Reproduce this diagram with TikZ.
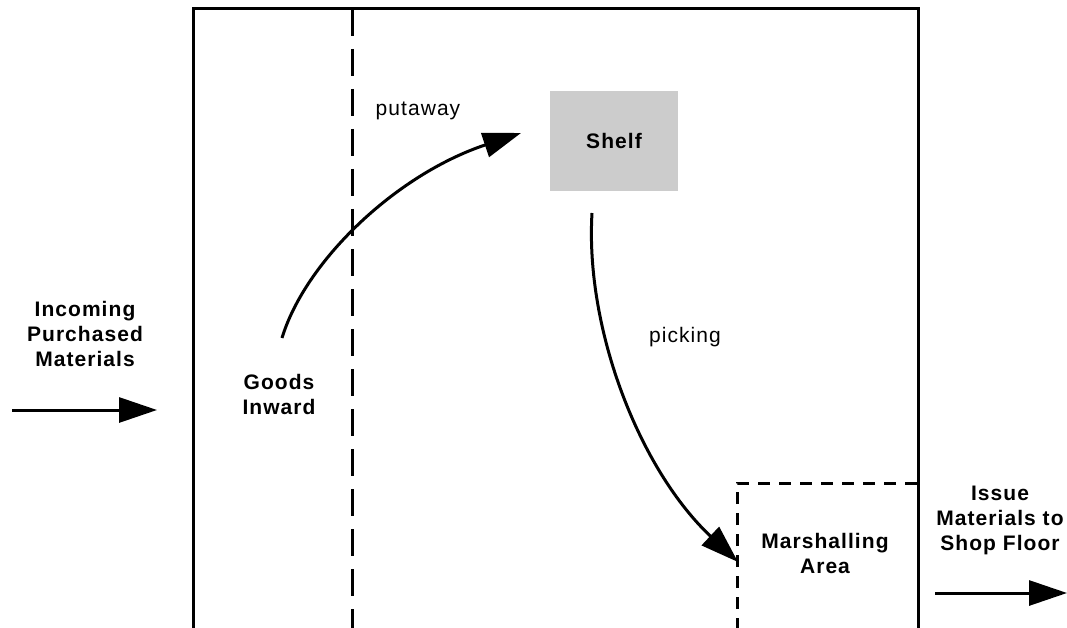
\documentclass[tikz,border=0pt]{standalone}
\usepackage{fontspec}
\setmainfont{Liberation Sans}[LetterSpace=5]
\usetikzlibrary{arrows.meta}
\begin{document}
\begin{tikzpicture}[x=1pt,y=-1pt,
  wall/.style={line width=3pt},
  divider/.style={line width=3pt, dash pattern=on 27pt off 13pt},
  zone/.style={line width=3pt, dash pattern=on 12pt off 9pt},
  flow/.style={line width=3pt, -{Triangle[length=38pt,width=25pt]}},
  bold/.style={font=\fontsize{21}{25}\selectfont\bfseries, align=center, inner sep=0pt},
  plain/.style={font=\fontsize{21}{24}\selectfont, inner sep=0pt},
  shelfbox/.style={fill=black!20, minimum width=128pt, minimum height=100pt, inner sep=0pt}]
\useasboundingbox (0,0) rectangle (1067,628);
% outer walls (open at bottom)
\coordinate (wl) at (193,630);
\coordinate (wtl) at (193,9);
\coordinate (wtr) at (918,9);
\coordinate (wr) at (918,630);
\draw[wall, line join=miter] (wl) -- (wtl) -- (wtr) -- (wr);
% dashed divider
\coordinate (dt) at (352,9);
\coordinate (db) at (352,630);
\draw[divider] (dt) -- (db);
% marshalling area
\coordinate (ma) at (737,630);
\coordinate (mb) at (737,483);
\coordinate (mc) at (918,483);
\draw[zone] (ma) -- (mb) -- (mc);
% shelf
\node[shelfbox] (shelf) at (614,141) {};
\node[bold] (shelflbl) at (614,141) {Shelf};
% labels
\node[bold] (incoming) at (85,334) {Incoming\\Purchased\\Materials};
\node[bold] (goods) at (279,394) {Goods\\Inward};
\node[bold] (marsh) at (825,553) {Marshalling\\Area};
\node[bold] (issue) at (1000,520) {Issue\\Materials to\\Shop Floor};
\node[plain] (putaway) at (418,111) {putaway};
\node[plain] (picking) at (685,337) {picking};
% straight arrows
\coordinate (inA) at (12,410);
\coordinate (inB) at (157,410);
\draw[flow] (inA) -- (inB);
\coordinate (outA) at (935,593);
\coordinate (outB) at (1067,593);
\draw[flow] (outA) -- (outB);
% curved arrows
\coordinate (pa) at (282,338);
\coordinate (pb) at (521,133);
\draw[flow] (pa) .. controls (305,262) and (395,175) .. (pb);
\coordinate (pc) at (592,213);
\coordinate (pd) at (738,562);
\draw[flow] (pc) .. controls (585,330) and (640,470) .. (pd);
\end{tikzpicture}
\end{document}
